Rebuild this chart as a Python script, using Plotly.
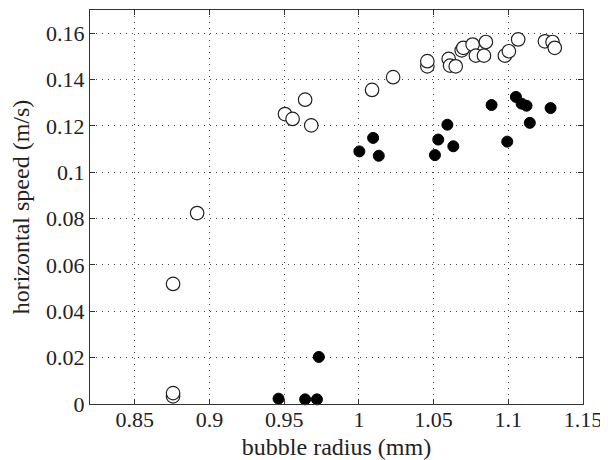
import plotly.graph_objects as go

open_x = [0.8756, 0.8756, 0.8756, 0.8917, 0.9505, 0.9556, 0.9640, 0.9681, 1.0088, 1.0229,
          1.0458, 1.0458, 1.0601, 1.0610, 1.0648, 1.0688, 1.0699, 1.0761, 1.0783, 1.0837,
          1.0850, 1.0977, 1.1004, 1.1066, 1.1245, 1.1296, 1.1311]
open_y = [0.0033, 0.0047, 0.0518, 0.0824, 0.1251, 0.1230, 0.1313, 0.1202, 0.1355, 0.1410,
          0.1457, 0.1479, 0.1489, 0.1460, 0.1457, 0.1526, 0.1537, 0.1551, 0.1503, 0.1503,
          0.1562, 0.1503, 0.1522, 0.1573, 0.1565, 0.1562, 0.1537]

filled_x = [0.9462, 0.9640, 0.9719, 0.9732, 1.0003, 1.0095, 1.0133, 1.0509, 1.0531, 1.0592,
            1.0632, 1.0888, 1.0993, 1.1051, 1.1089, 1.1122, 1.1144, 1.1283]
filled_y = [0.0023, 0.0020, 0.0020, 0.0203, 0.1090, 0.1148, 0.1071, 0.1074, 0.1141, 0.1205,
            0.1112, 0.1290, 0.1132, 0.1325, 0.1296, 0.1287, 0.1213, 0.1277]

x_ticks = [0.85, 0.9, 0.95, 1.0, 1.05, 1.1, 1.15]
x_tick_labels = ["0.85", "0.9", "0.95", "1", "1.05", "1.1", "1.15"]
y_ticks = [0, 0.02, 0.04, 0.06, 0.08, 0.1, 0.12, 0.14, 0.16]
y_tick_labels = ["0", "0.02", "0.04", "0.06", "0.08", "0.1", "0.12", "0.14", "0.16"]

FONT = "Liberation Serif, Times New Roman, serif"

fig = go.Figure()
fig.add_trace(go.Scatter(x=filled_x, y=filled_y, mode="markers",
                         marker=dict(symbol="circle", size=11, color="black",
                                     line=dict(color="black", width=1)),
                         showlegend=False, cliponaxis=False))
fig.add_trace(go.Scatter(x=open_x, y=open_y, mode="markers",
                         marker=dict(symbol="circle", size=13.5, color="white",
                                     line=dict(color="#222222", width=1.2)),
                         showlegend=False, cliponaxis=False))

axis_common = dict(showline=True, linecolor="#333333", linewidth=1, mirror="ticks",
                   ticks="inside", ticklen=5, tickcolor="#333333",
                   showgrid=True, gridcolor="#444444", griddash="1px,5px", gridwidth=1,
                   zeroline=False, automargin=False,
                   tickfont=dict(family=FONT, size=22, color="#222222"))

fig.update_xaxes(range=[0.82, 1.15], tickvals=x_ticks, ticktext=x_tick_labels,
                 ticklabelstandoff=-4,
                 title=dict(text="bubble radius (mm)", standoff=8,
                            font=dict(family=FONT, size=24, color="#222222")),
                 **axis_common)
fig.update_yaxes(range=[0, 0.17], tickvals=y_ticks, ticktext=y_tick_labels,
                 title=dict(text="horizontal speed (m/s)", standoff=12,
                            font=dict(family=FONT, size=24, color="#222222")),
                 **axis_common)

# the page has an 8px body margin, so the figure is drawn 8px smaller
fig.update_layout(width=600, height=452, paper_bgcolor="white", plot_bgcolor="white",
                  margin=dict(l=82, r=25, t=2, b=56))

fig.write_html("out.html")
